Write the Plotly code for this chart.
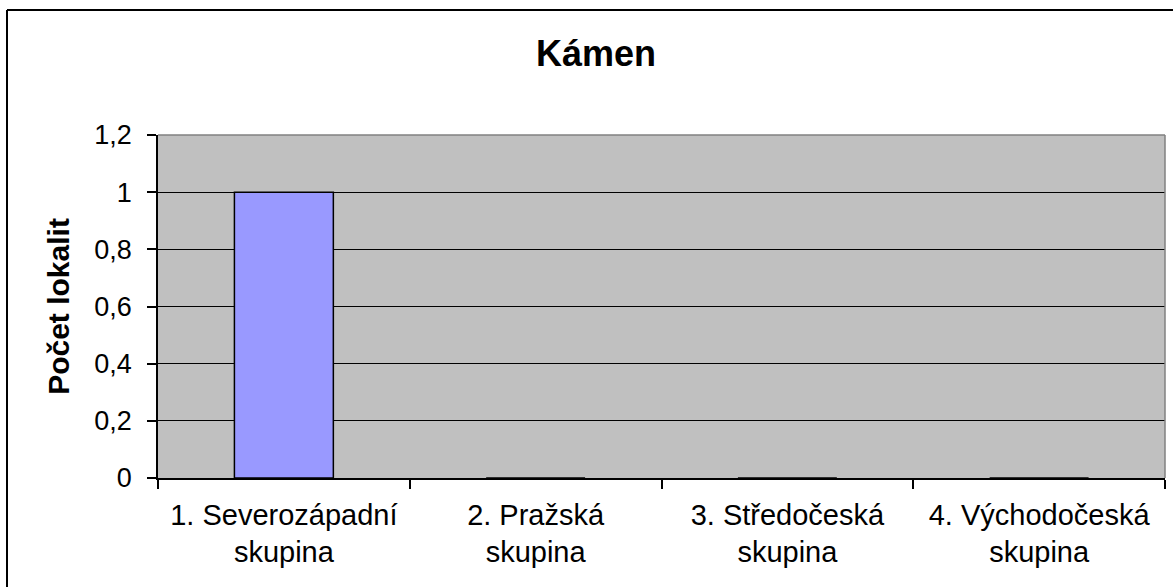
import plotly.graph_objects as go

categories = ["1. Severozápadní<br>skupina", "2. Pražská<br>skupina",
              "3. Středočeská<br>skupina", "4. Východočeská<br>skupina"]
values = [1, 0, 0, 0]
title_text = "Kámen"
y_title = "Počet lokalit"
y_ticks = [0, 0.2, 0.4, 0.6, 0.8, 1.0, 1.2]

W, H = 1173, 587
L, R, T, B = 158, 8, 135, 109
pw, ph = W - L - R, H - T - B

def px2paper_x(px):
    return (px - L) / pw

def px2paper_y(py):
    return (H - B - py) / ph

fig = go.Figure()
fig.add_trace(go.Bar(
    x=categories, y=values,
    marker=dict(color="#9999FF", line=dict(color="black", width=1.5)),
    hoverinfo="x+y",
))

font_family = "Arial, Liberation Sans, sans-serif"

fig.update_layout(
    width=W, height=H,
    margin=dict(l=L, r=R, t=T, b=B, pad=0),
    paper_bgcolor="white",
    plot_bgcolor="#C0C0C0",
    separators=", ",
    bargap=0.607,
    showlegend=False,
    font=dict(family=font_family, color="black"),
    title=dict(text="<b>" + title_text + "</b>", x=px2paper_x(596),
               xanchor="center", xref="paper",
               y=1 - 53 / H, yanchor="middle",
               font=dict(size=36, family=font_family, color="black")),
    xaxis=dict(
        type="category",
        tickson="boundaries",
        ticks="outside", ticklen=9, tickwidth=1.5, tickcolor="black",
        ticklabelstandoff=10,
        showline=True, linecolor="black", linewidth=1.5,
        showgrid=False,
        tickfont=dict(size=29, family=font_family, color="black"),
        range=[-0.5, 3.5],
    ),
    yaxis=dict(
        range=[0, 1.2],
        tickvals=y_ticks,
        ticks="outside", ticklen=9, tickwidth=1.5, tickcolor="black",
        ticklabelstandoff=10,
        showline=True, linecolor="black", linewidth=1.5,
        showgrid=True, gridcolor="black", gridwidth=1.2,
        zeroline=False,
        tickfont=dict(size=27, family=font_family, color="black"),
        title=dict(text="<b>" + y_title + "</b>", standoff=16,
                   font=dict(size=30, family=font_family, color="black")),
    ),
    shapes=[
        dict(type="line", xref="paper", yref="paper", x0=0, x1=1, y0=1, y1=1,
             line=dict(color="#808080", width=1.5), layer="above"),
        dict(type="line", xref="paper", yref="paper", x0=1, x1=1, y0=0, y1=1,
             line=dict(color="#808080", width=1.5), layer="above"),
        dict(type="line", xref="paper", yref="paper",
             x0=px2paper_x(7), x1=px2paper_x(7), y0=px2paper_y(10), y1=px2paper_y(600),
             line=dict(color="black", width=2)),
        dict(type="line", xref="paper", yref="paper",
             x0=px2paper_x(7), x1=px2paper_x(1200), y0=px2paper_y(10), y1=px2paper_y(10),
             line=dict(color="black", width=2)),
    ],
)

fig.write_html("out.html", config={"displayModeBar": False},
               post_script="document.body.style.margin='0';")
